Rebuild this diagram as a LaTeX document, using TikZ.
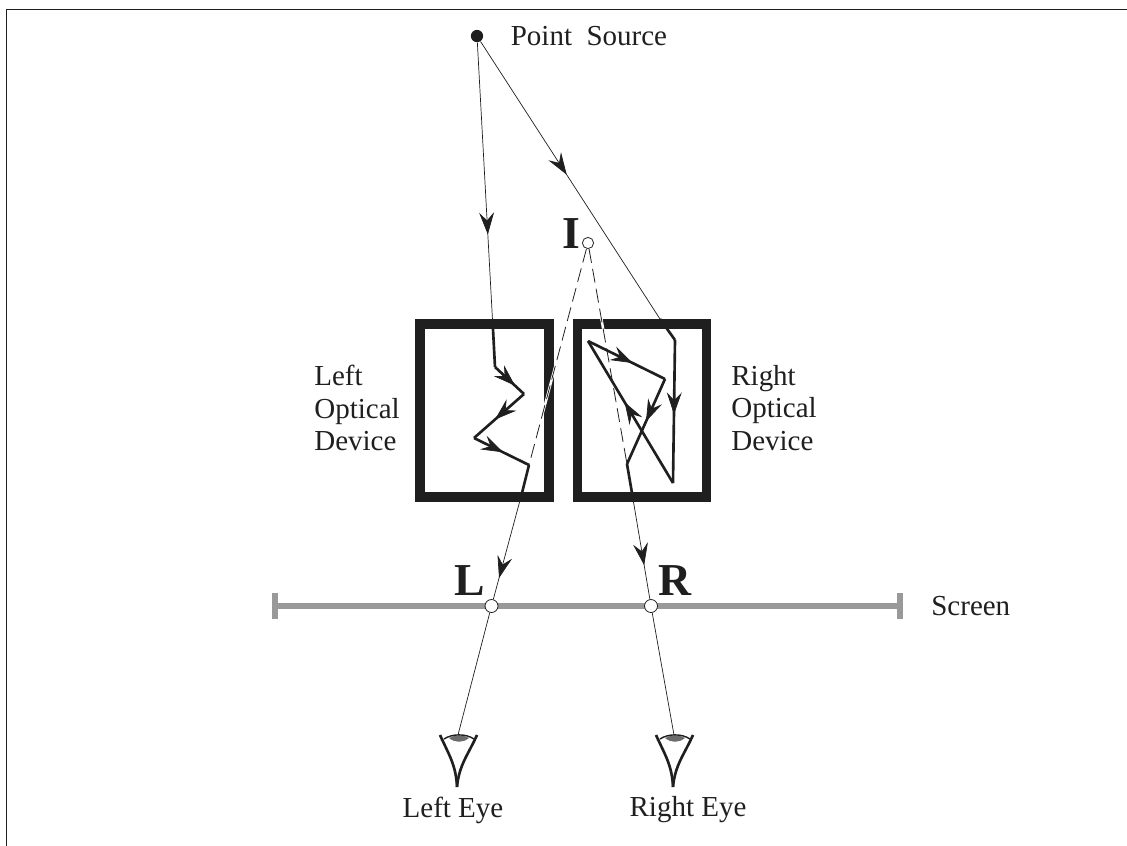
\documentclass[tikz,border=0pt]{standalone}
\usepackage{fontspec}
\setmainfont{Liberation Serif}
\usetikzlibrary{arrows.meta,decorations.markings}
\definecolor{screengray}{gray}{0.6}
\definecolor{inkblack}{gray}{0.12}
\tikzset{
    thinray/.style={inkblack,line width=0.4pt},
    thickray/.style={inkblack,line width=1.5pt,line join=miter},
    midtip/.style={postaction={decorate},decoration={markings,
        mark=at position #1 with {\arrow[line width=0.4pt]{Stealth[length=12.5pt,width=8.5pt,inset=4.5pt]}}}},
    device/.style={draw=inkblack,line width=5.3pt,fill=white,minimum width=2.58cm,minimum height=3.46cm,inner sep=0pt},
    spot/.style={circle,draw=inkblack,fill=white,line width=0.45pt,minimum size=#1,inner sep=0pt},
    lettermark/.style={font=\fontsize{26}{26}\selectfont\bfseries,text=inkblack,inner sep=0pt},
    caption/.style={font=\fontsize{16.5}{18.6}\selectfont,text=inkblack,inner sep=0pt},
    eyelid/.style={inkblack,line width=1.5pt},
}
\begin{document}
\begin{tikzpicture}[x=0.02cm,y=-0.02cm]
    \useasboundingbox (0,0) rectangle (1127,846);

    % Frame of the page
    \draw[inkblack,line width=0.5pt] (6,846) -- (6,9) -- (1127,9);

    % Optical devices
    \node[device] (leftbox) at (484.5,410.5) {};
    \node[device] (rightbox) at (642,410.5) {};

    % Screen
    \coordinate (screenL) at (275,606);
    \coordinate (screenR) at (900,606);
    \draw[screengray,line width=3pt] (screenL) -- (screenR);
    \draw[screengray,line width=3pt] (275,593) -- (275,619);
    \draw[screengray,line width=3pt] (900,593) -- (900,619);

    % Points
    \node[circle,fill=inkblack,minimum size=7pt,inner sep=0pt] (source) at (477,36) {};
    \node[spot=6.4pt] (imgI) at (588,243) {};
    \node[spot=7.4pt] (imgL) at (491.5,606) {};
    \node[spot=7.4pt] (imgR) at (651,606) {};

    % Bends of the rays
    \coordinate (la) at (493,329);
    \coordinate (lb) at (495,367);
    \coordinate (lc) at (524,394);
    \coordinate (ld) at (474,438);
    \coordinate (le) at (529,465);
    \coordinate (lf) at (522,493);
    \coordinate (ra) at (660,319);
    \coordinate (rb) at (675,340);
    \coordinate (rc) at (673,483);
    \coordinate (rd) at (588,341);
    \coordinate (re) at (665,379);
    \coordinate (rf) at (627,464);
    \coordinate (rg) at (632,493);
    \coordinate (eyeL) at (458,735);
    \coordinate (eyeR) at (674,735);

    % Dashed back-traced lines
    \draw[white,line width=1.4pt] (imgI) -- (le);
    \draw[white,line width=1.4pt] (imgI) -- (rf);
    \draw[inkblack,line width=0.45pt,dash pattern=on 8pt off 3.5pt] (imgI) -- (le);
    \draw[inkblack,line width=0.45pt,dash pattern=on 8pt off 3.5pt] (imgI) -- (rf);

    % Left ray
    \draw[thinray,midtip=0.67] (source) -- (la);
    \draw[thickray] (la) -- (lb);
    \draw[thickray,midtip=0.69] (lb) -- (lc);
    \draw[thickray,midtip=0.58] (lc) -- (ld);
    \draw[thickray,midtip=0.53] (ld) -- (le);
    \draw[thickray] (le) -- (lf);
    \draw[thinray,midtip=0.8] (lf) -- (imgL);
    \draw[thinray] (imgL) -- (eyeL);

    % Right ray
    \draw[thinray,midtip=0.48] (source) -- (ra);
    \draw[thickray] (ra) -- (rb);
    \draw[thickray,midtip=0.52] (rb) -- (rc);
    \draw[thickray,midtip=0.57] (rc) -- (rd);
    \draw[thickray,midtip=0.58] (rd) -- (re);
    \draw[thickray,midtip=0.5] (re) -- (rf);
    \draw[thickray] (rf) -- (rg);
    \draw[thinray,midtip=0.68] (rg) -- (imgR);
    \draw[thinray] (imgR) -- (eyeR);

    % Eyes
    \foreach \ex/\nm in {459/L,675/R} {
        \begin{scope}[shift={(\ex,0)}]
            \fill[screengray!70!black] (-10,738) .. controls (-4,734.5) and (4,734.5) .. (10,738) .. controls (4,743) and (-4,743) .. (-10,738);
            \draw[eyelid,line width=0.8pt] (-15,739) .. controls (-7,733.5) and (7,733.5) .. (15,739);
            \draw[eyelid] (-19,735) .. controls (-10,755) and (-3,765) .. (-2,787);
            \draw[eyelid] (18,735) .. controls (9,755) and (0,765) .. (-2,787);
        \end{scope}
    }

    % Labels
    \node[caption,anchor=west] (sourcetext) at (510.5,36) {Point\ \ Source};
    \node[lettermark] (textI) at (571,234) {I};
    \node[lettermark] (textL) at (470,581) {L};
    \node[lettermark] (textR) at (675,581) {R};
    \node[caption,anchor=west] (screentext) at (931,606) {Screen};
    \node[caption,anchor=west,align=left] (lefttext) at (314,408) {Left\\Optical\\Device};
    \node[caption,anchor=west,align=left] (righttext) at (731,408) {Right\\Optical\\Device};
    \node[caption] (lefteye) at (453,810) {Left Eye};
    \node[caption] (righteye) at (688,810) {Right Eye};
\end{tikzpicture}
\end{document}
